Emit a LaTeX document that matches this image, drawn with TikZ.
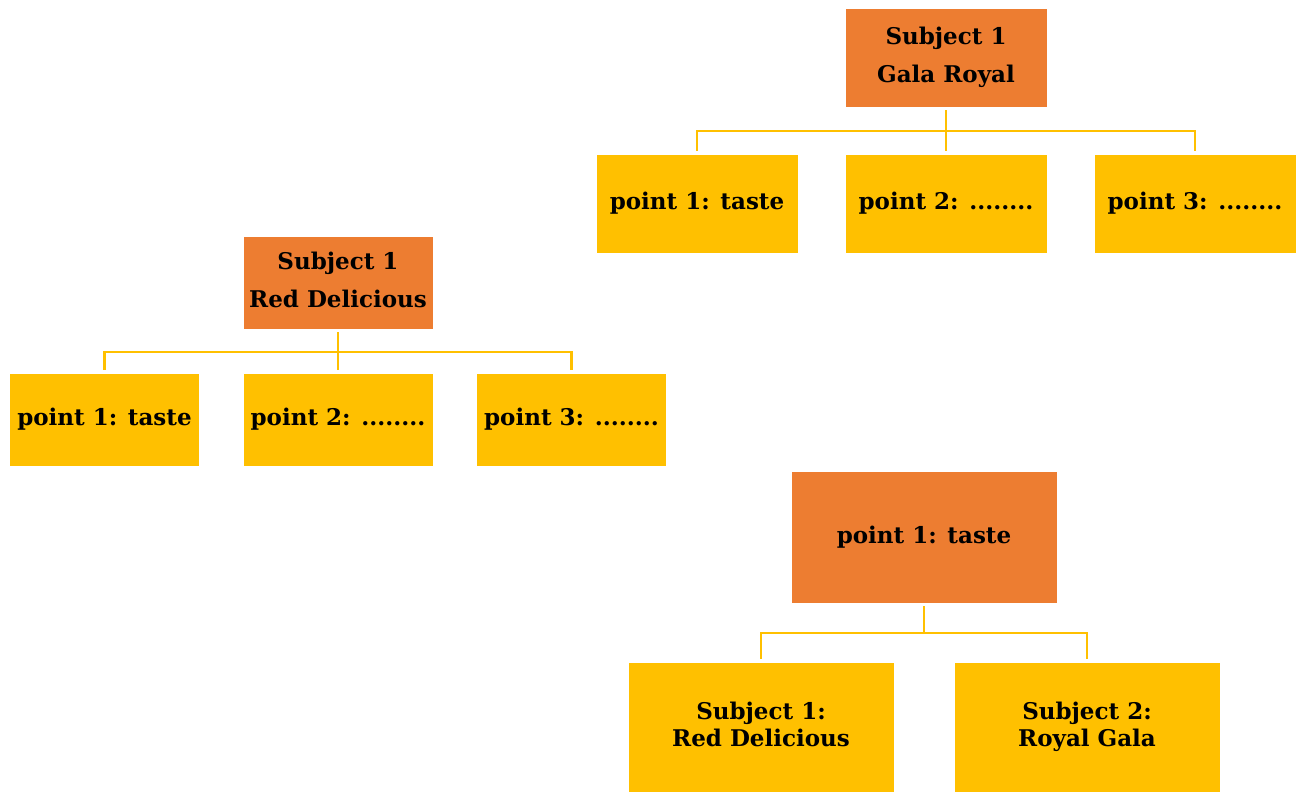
\documentclass[tikz,border=0pt]{standalone}
\usepackage{fontspec}
\setmainfont{DejaVu Serif}
\definecolor{boxorange}{HTML}{ED7D31}
\definecolor{boxyellow}{HTML}{FFC000}
\tikzset{
  base/.style={inner sep=0pt, align=center, text=black, draw=white, line width=0.6pt,
    font=\fontsize{23}{38}\selectfont\bfseries},
  rootbox/.style={base, fill=boxorange},
  leafbox/.style={base, fill=boxyellow},
  conn/.style={draw=boxyellow, line width=2.8pt},
}
\begin{document}
\begin{tikzpicture}[x=1pt,y=-1pt]
\useasboundingbox (0,0) rectangle (1300,792);
% tree 1
\node[rootbox, minimum width=202pt, minimum height=99pt] (r1) at (946,57.5) {Subject 1\\Gala Royal};
\node[leafbox, minimum width=202pt, minimum height=99pt] (a1) at (697,203.5) {point 1: taste};
\node[leafbox, minimum width=202pt, minimum height=99pt] (a2) at (946,203.5) {point 2: ........};
\node[leafbox, minimum width=202pt, minimum height=99pt] (a3) at (1195,203.5) {point 3: ........};
\coordinate (h1) at (946,131);
\draw[conn, shorten <=3pt] (r1.south) -- (h1);
\draw[conn, shorten >=3pt] (h1) -- (a2.north);
\draw[conn, shorten <=3pt, shorten >=3pt] (a1.north) |- (h1) -| (a3.north);
% tree 2
\node[rootbox, minimum width=190pt, minimum height=93pt] (r2) at (338,282.5) {Subject 1\\Red Delicious\vphantom{y}};
\node[leafbox, minimum width=190pt, minimum height=93pt] (b1) at (104.5,419.5) {point 1: taste};
\node[leafbox, minimum width=190pt, minimum height=93pt] (b2) at (338,419.5) {point 2: ........};
\node[leafbox, minimum width=190pt, minimum height=93pt] (b3) at (571.5,419.5) {point 3: ........};
\coordinate (h2) at (338,352);
\draw[conn, shorten <=3pt] (r2.south) -- (h2);
\draw[conn, shorten >=3pt] (h2) -- (b2.north);
\draw[conn, shorten <=3pt, shorten >=3pt] (b1.north) |- (h2) -| (b3.north);
% tree 3
\node[rootbox, minimum width=266pt, minimum height=132pt] (r3) at (924,537) {point 1: taste};
\node[leafbox, minimum width=266pt, minimum height=130pt, font=\fontsize{23}{27}\selectfont\bfseries] (c1) at (761,727) {Subject 1:\\Red Delicious\vphantom{y}};
\node[leafbox, minimum width=266pt, minimum height=130pt, font=\fontsize{23}{27}\selectfont\bfseries] (c2) at (1087,727) {Subject 2:\\Royal Gala};
\coordinate (h3) at (924,633);
\draw[conn, shorten <=3pt] (r3.south) -- (h3);
\draw[conn, shorten <=3pt, shorten >=3pt] (c1.north) |- (h3) -| (c2.north);
\end{tikzpicture}
\end{document}
